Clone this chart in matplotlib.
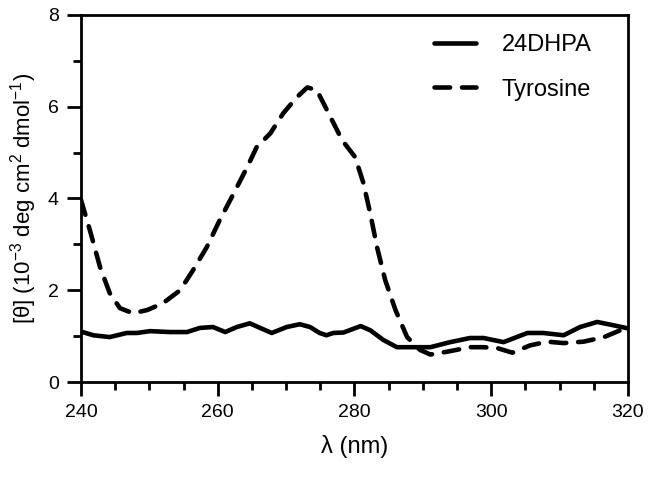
import matplotlib
matplotlib.use("Agg")
import matplotlib.pyplot as plt
from matplotlib.ticker import MultipleLocator

plt.rcParams['font.family'] = ['Liberation Sans', 'DejaVu Sans']

lambda_dhpa = [240.0, 241.8, 244.2, 246.7, 248.2, 250.1, 253.0, 255.5, 257.4, 259.3,
               261.1, 262.8, 264.7, 266.2, 267.9, 270.1, 272.0, 273.5, 274.9, 275.9,
               276.9, 278.4, 280.9, 282.3, 284.2, 286.2, 288.6, 291.1, 294.0, 296.9,
               298.9, 301.8, 305.3, 307.6, 310.6, 313.0, 315.5, 317.8, 320.0]
theta_dhpa = [1.10, 1.02, 0.98, 1.07, 1.07, 1.11, 1.09, 1.09, 1.18, 1.20,
              1.09, 1.20, 1.28, 1.18, 1.07, 1.20, 1.26, 1.20, 1.07, 1.02,
              1.07, 1.08, 1.22, 1.13, 0.92, 0.76, 0.76, 0.76, 0.87, 0.96,
              0.96, 0.87, 1.07, 1.07, 1.02, 1.20, 1.31, 1.24, 1.17]

lambda_tyr = [240.0, 241.3, 242.8, 244.2, 245.7, 247.6, 249.7, 252.0, 254.5, 256.4,
              258.4, 260.3, 262.3, 264.3, 265.7, 267.7, 269.6, 271.6, 273.1, 274.5,
              276.2, 278.2, 280.1, 281.3, 282.3, 283.3, 284.5, 286.0, 287.7, 289.6,
              291.1, 293.5, 296.9, 298.9, 300.9, 303.1, 305.7, 308.2, 310.6, 313.5,
              316.5, 318.9, 320.0]
theta_tyr = [3.97, 3.31, 2.50, 1.94, 1.61, 1.50, 1.57, 1.72, 2.00, 2.44,
             2.94, 3.53, 4.10, 4.68, 5.12, 5.42, 5.86, 6.21, 6.42, 6.36,
             5.86, 5.27, 4.90, 4.34, 3.68, 2.94, 2.22, 1.57, 0.98, 0.70,
             0.60, 0.66, 0.76, 0.76, 0.74, 0.64, 0.80, 0.88, 0.85, 0.88,
             0.98, 1.13, 1.20]

fig = plt.figure(figsize=(6.61, 4.80), dpi=100)
ax = fig.add_axes([0.1225, 0.204, 0.8275, 0.765])

ax.plot(lambda_dhpa, theta_dhpa, color='black', lw=3.3, solid_capstyle='round',
        solid_joinstyle='round', label='24DHPA')
ax.plot(lambda_tyr, theta_tyr, color='black', lw=3.3, dashes=(3.4, 2.6),
        dash_capstyle='round', dash_joinstyle='round', label='Tyrosine')

ax.set_xlim(240, 320)
ax.set_ylim(0, 8)
ax.xaxis.set_major_locator(MultipleLocator(20))
ax.xaxis.set_minor_locator(MultipleLocator(5))
ax.yaxis.set_major_locator(MultipleLocator(2))
ax.yaxis.set_minor_locator(MultipleLocator(1))

for s in ax.spines.values():
    s.set_linewidth(2)
ax.tick_params(which='major', length=10, width=2, labelsize=14, direction='out', pad=6)
ax.tick_params(which='minor', length=6, width=2, direction='out')

ax.set_xlabel('λ (nm)', fontsize=17, labelpad=10)
ax.set_ylabel('[θ] (10$^{\\mathregular{-3}}$ deg cm$^{\\mathregular{2}}$ dmol$^{\\mathregular{-1}}$)',
              fontsize=16, labelpad=6)

ax.legend(loc='upper right', bbox_to_anchor=(0.972, 1.005), frameon=False, fontsize=17,
          handlelength=1.75, labelspacing=0.95, handletextpad=1.1)

fig.savefig('out.png', dpi=100)
